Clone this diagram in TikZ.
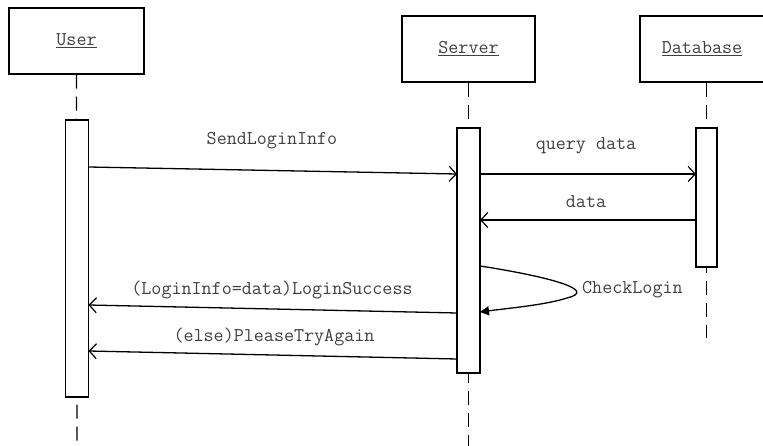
\documentclass[tikz,border=0pt]{standalone}
\usepackage{fontspec}
\usetikzlibrary{arrows.meta}
\begin{document}
\begin{tikzpicture}[x=1pt,y=-1pt,
  objbox/.style={draw, line width=1.3pt, rectangle, inner sep=0pt, fill=white},
  actbox/.style={draw, line width=1.3pt, rectangle, inner sep=0pt, fill=white, minimum width=23pt},
  lifeline/.style={line width=1.3pt, dash pattern=on 14pt off 8pt},
  msg/.style={line width=1.3pt, -{Straight Barb[length=7pt,width=15pt,line width=1.2pt]}},
  selfmsg/.style={line width=1.3pt, -{Triangle[length=9pt,width=9pt]}},
  lbl/.style={font=\ttfamily\fontsize{19.5}{22}\selectfont, text=black!75, inner sep=0pt},
  hdr/.style={font=\ttfamily\fontsize{19.5}{22}\selectfont, text=black!75, inner sep=0pt}
]
\useasboundingbox (0,0) rectangle (763,446);
\fill[white] (0,0) rectangle (763,446);

% lifeline ends
\coordinate (uend) at (77,446);
\coordinate (send) at (468.5,446);
\coordinate (dend) at (706.5,338);

\node[objbox, minimum width=135pt, minimum height=66pt] (user) at (76.5,41) {};
\node[hdr] (userlbl) at (user.center) {\underline{User}};
\node[objbox, minimum width=133pt, minimum height=66pt] (server) at (468.5,49) {};
\node[hdr] (serverlbl) at (server.center) {\underline{Server}};
\node[objbox, minimum width=133pt, minimum height=66pt] (db) at (706.5,49) {};
\node[hdr] (dblbl) at (702,49) {\underline{Database}};

\draw[lifeline] (user.south) -- (uend);
\draw[lifeline] (server.south) -- (send);
\draw[lifeline] (db.south) -- (dend);

% activations
\node[actbox, minimum height=277pt] (uact) at (77,258.5) {};
\node[actbox, minimum height=245pt] (sact) at (468.5,250.5) {};
\node[actbox, minimum width=21pt, minimum height=139pt] (dact) at (706.5,197.5) {};

% message points
\coordinate (m1a) at (88.5,167);
\coordinate (m1b) at (457,174);
\coordinate (m2a) at (480,174);
\coordinate (m2b) at (696,174);
\coordinate (m3a) at (696,220);
\coordinate (m3b) at (480,220);
\coordinate (m4a) at (480,266);
\coordinate (m4b) at (480,312);
\coordinate (m5a) at (457,313);
\coordinate (m5b) at (88.5,305);
\coordinate (m6a) at (457,359);
\coordinate (m6b) at (88.5,351);

\draw[msg] (m1a) -- (m1b);
\draw[msg] (m2a) -- (m2b);
\draw[msg] (m3a) -- (m3b);
\draw[selfmsg] (m4a) .. controls (545,276) and (600,290) .. (567,298) .. controls (545,305) and (510,308) .. (m4b);
\draw[msg] (m5a) -- (m5b);
\draw[msg] (m6a) -- (m6b);

% labels
\node[lbl] (l1) at (272,141) {SendLoginInfo};
\node[lbl] (l2) at (586,146) {query data};
\node[lbl] (l3) at (586,202) {data};
\node[lbl, anchor=west] (l4) at (582,290) {CheckLogin};
\node[lbl] (l5) at (272,290) {(LoginInfo=data)LoginSuccess};
\node[lbl] (l6) at (274,337) {(else)PleaseTryAgain};
\end{tikzpicture}
\end{document}
